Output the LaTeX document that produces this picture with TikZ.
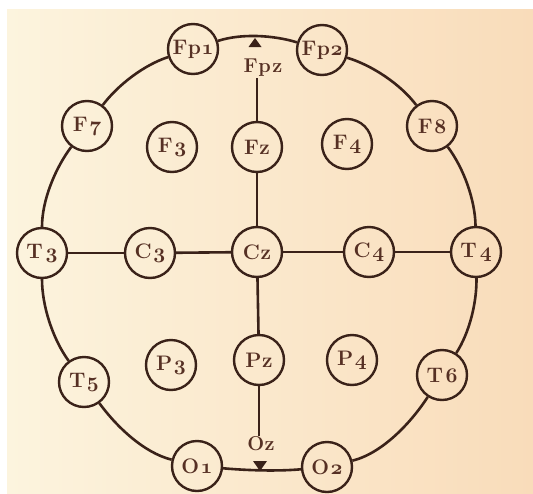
\documentclass[tikz,border=0pt]{standalone}
\usepackage{fontspec}
\usetikzlibrary{calc}
\definecolor{ink}{HTML}{3A2219}
\definecolor{txt}{HTML}{563024}
\definecolor{bgl}{HTML}{FCF4DE}
\definecolor{bgr}{HTML}{F9DCBA}
\newcommand\osn[1]{{\fontencoding{OML}\fontfamily{cmm}\fontseries{b}\fontshape{it}\selectfont #1}}
\newcommand\elab[2]{#1\kern1.6pt\osn{#2}}
\begin{document}
\begin{tikzpicture}[x=1pt,y=1pt,
  el/.style={circle,draw=ink,line width=2.4pt,minimum size=50pt,inner sep=0pt,
    text=txt,font=\fontsize{21}{23}\selectfont\bfseries},
  lbl/.style={inner sep=1pt,text=txt,font=\fontsize{20}{22}\selectfont\bfseries},
  wire/.style={draw=ink,line width=2.6pt},
  rim/.style={draw=ink,line width=2.6pt,looseness=0.8},
  pin/.style={fill=ink}]
\useasboundingbox (0,0) rectangle (533,-493);
\fill[white] (0,0) rectangle (533,-493);
\shade[left color=bgl,right color=bgr] (7,-9) rectangle (533,-493);
% outer electrodes
\node[el] (Fp1) at (193,-49) {F\kern0.5pt p\kern0.5pt\osn{1}};
\node[el] (Fp2) at (322,-50) {F\kern0.5pt p\kern0.5pt\osn{2}};
\node[el] (F7) at (87,-126) {\elab{F}{7}};
\node[el] (F8) at (432,-126) {\elab{F}{8}};
\node[el] (T3) at (42,-253) {T\kern3pt\osn{3}};
\node[el] (T4) at (476,-252) {T\kern3pt\osn{4}};
\node[el] (T5) at (84,-382) {T\kern1.5pt\osn{5}};
\node[el] (T6) at (442,-375) {T\kern2.5pt\osn{6}};
\node[el] (O1) at (197,-466) {\elab{O}{1}};
\node[el] (O2) at (327,-467) {\elab{O}{2}};
% inner electrodes
\node[el] (F3) at (172,-147) {\elab{F}{3}};
\node[el] (Fz) at (257,-147) {F\kern0.5pt z};
\node[el] (F4) at (347,-144) {\elab{F}{4}};
\node[el] (C3) at (150,-253) {\elab{C}{3}};
\node[el] (Cz) at (257,-252) {C\kern0.5pt z};
\node[el] (C4) at (369,-252) {\elab{C}{4}};
\node[el] (P3) at (171,-365) {\elab{P}{3}};
\node[el] (Pz) at (259,-360) {P\kern0.5pt z};
\node[el] (P4) at (352,-360) {\elab{P}{4}};
% midline labels
\node[lbl] (Fpz) at (263,-68) {F\kern0.5pt p\kern1.5pt z};
\node[lbl] (Oz) at (261,-444) {O\kern0.5pt z};
% head outline
\draw[rim] (Fp1) to[out=18,in=163] (Fp2);
\draw[rim] (Fp2) to[out=-17,in=127] (F8);
\draw[rim] (F8) to[out=-53,in=91] (T4);
\draw[rim] (T4) to[out=-89,in=57] (T6);
\draw[rim] (T6) to[out=-123,in=14] (O2);
\draw[rim] (O2) to[out=-175,in=-5] (O1);
\draw[rim] (O1) to[out=166,in=-54] (T5);
\draw[rim] (T5) to[out=126,in=-90] (T3);
\draw[rim] (T3) to[out=90,in=-127] (F7);
\draw[rim] (F7) to[out=53,in=-162] (Fp1);
% midline and coronal line
\draw[wire] (Fz) -- (Fz |- Fpz.south);
\draw[wire] (Fz) -- (Cz);
\draw[wire] (Cz) -- (Pz);
\draw[wire] (Pz) -- (Pz |- Oz.north);
\draw[wire] (T3) -- (C3);
\draw[wire] (C3) -- (Cz);
\draw[wire] (Cz) -- (C4);
\draw[wire] (C4) -- (T4);
% nasion / inion markers
\coordinate (nasion) at (255,-38);
\coordinate (inion) at (260,-471);
\fill[pin] (nasion) -- ++(-6.5,-9) -- ++(13,0) -- cycle;
\fill[pin] (inion) -- ++(-7,10) -- ++(14,0) -- cycle;
\end{tikzpicture}
\end{document}
